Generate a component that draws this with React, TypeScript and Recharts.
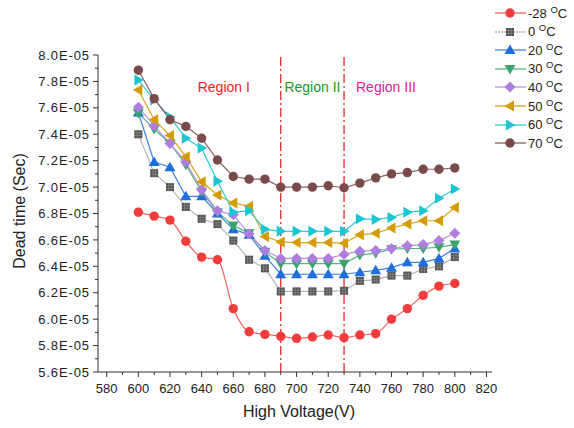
import React from 'react';
import { LineChart, Line, XAxis, YAxis, ReferenceLine, ReferenceDot } from 'recharts';

// dead time values are in units of 1E-05 s
const voltages = [600, 610, 620, 630, 640, 650, 660, 670, 680, 690, 700, 710, 720, 730, 740, 750, 760, 770, 780, 790, 800];
const tempM28 = [6.81, 6.78, 6.75, 6.59, 6.47, 6.45, 6.08, 5.905, 5.885, 5.87, 5.855, 5.865, 5.88, 5.86, 5.88, 5.89, 6.0, 6.08, 6.18, 6.25, 6.27];
const temp0 = [7.4, 7.105, 7.0, 6.85, 6.76, 6.72, 6.595, 6.45, 6.385, 6.21, 6.21, 6.21, 6.21, 6.215, 6.29, 6.3, 6.33, 6.33, 6.38, 6.4, 6.47];
const temp20 = [7.565, 7.19, 7.15, 6.93, 6.93, 6.8, 6.68, 6.64, 6.48, 6.34, 6.34, 6.34, 6.34, 6.34, 6.355, 6.37, 6.39, 6.43, 6.43, 6.46, 6.535];
const temp30 = [7.56, 7.44, 7.33, 7.17, 6.965, 6.81, 6.71, 6.65, 6.51, 6.42, 6.42, 6.42, 6.42, 6.42, 6.485, 6.5, 6.53, 6.535, 6.535, 6.545, 6.565];
const temp40 = [7.605, 7.465, 7.33, 7.19, 6.98, 6.82, 6.79, 6.645, 6.52, 6.46, 6.46, 6.46, 6.46, 6.49, 6.515, 6.52, 6.535, 6.555, 6.565, 6.595, 6.65];
const temp50 = [7.735, 7.51, 7.39, 7.23, 7.04, 6.94, 6.88, 6.855, 6.625, 6.585, 6.58, 6.58, 6.58, 6.575, 6.64, 6.65, 6.69, 6.72, 6.745, 6.745, 6.845];
const temp60 = [7.81, 7.66, 7.53, 7.37, 7.295, 7.045, 6.81, 6.82, 6.68, 6.665, 6.665, 6.665, 6.665, 6.665, 6.76, 6.755, 6.77, 6.81, 6.82, 6.915, 6.985];
const temp70 = [7.885, 7.67, 7.51, 7.46, 7.37, 7.205, 7.08, 7.06, 7.06, 7.0, 7.0, 7.0, 7.01, 6.995, 7.03, 7.07, 7.1, 7.11, 7.135, 7.135, 7.145];

const xTicks = [580, 590, 600, 610, 620, 630, 640, 650, 660, 670, 680, 690, 700, 710, 720, 730, 740, 750, 760, 770, 780, 790, 800, 810, 820];
const yTicks = [5.6, 5.7, 5.8, 5.9, 6.0, 6.1, 6.2, 6.3, 6.4, 6.5, 6.6, 6.7, 6.8, 6.9, 7.0, 7.1, 7.2, 7.3, 7.4, 7.5, 7.6, 7.7, 7.8, 7.9, 8.0];

const regionBounds = [690, 730];
const regions = [
  { text: 'Region I', x: 654, color: '#f21d1d' },
  { text: 'Region II', x: 710, color: '#1a9c1a' },
  { text: 'Region III', x: 756.5, color: '#e4189a' },
];

type Shape = 'circle' | 'square' | 'up' | 'down' | 'diamond' | 'left' | 'right';

const series: { key: string; temp: string; values: number[]; color: string; line: string; shape: Shape; curve: 'monotone' | 'linear' }[] = [
  { key: 'm28', temp: '-28', values: tempM28, color: '#f23c3c', line: '#f26464', shape: 'circle', curve: 'monotone' },
  { key: 't0', temp: '0', values: temp0, color: '#505050', line: '#b4b4b4', shape: 'square', curve: 'linear' },
  { key: 't20', temp: '20', values: temp20, color: '#1e6edc', line: '#3d82e2', shape: 'up', curve: 'linear' },
  { key: 't30', temp: '30', values: temp30, color: '#3aa46a', line: '#56b482', shape: 'down', curve: 'linear' },
  { key: 't40', temp: '40', values: temp40, color: '#b07ce0', line: '#bb90e4', shape: 'diamond', curve: 'linear' },
  { key: 't50', temp: '50', values: temp50, color: '#d49c02', line: '#d8a41c', shape: 'left', curve: 'linear' },
  { key: 't60', temp: '60', values: temp60, color: '#1ac6d2', line: '#30cad4', shape: 'right', curve: 'linear' },
  { key: 't70', temp: '70', values: temp70, color: '#7a4a4a', line: '#8a6060', shape: 'circle', curve: 'linear' },
];

const data = voltages.map((v, i) => {
  const row: Record<string, number> = { v };
  series.forEach((s) => (row[s.key] = s.values[i]));
  return row;
});

const FONT = '"Liberation Sans", Arial, sans-serif';
const TICK_SIZE = 5;
const TICK_MARGIN = 4;

function Marker({ shape, cx, cy, color }: { shape: Shape; cx: number; cy: number; color: string }) {
  if (cx == null || cy == null) return null;
  switch (shape) {
    case 'circle':
      return <circle cx={cx} cy={cy} r={4.7} fill={color} />;
    case 'square':
      return (
        <g>
          <rect x={cx - 4} y={cy - 4} width={8} height={8} fill={color} />
          <path
            d={`M${cx - 1.3},${cy - 4}V${cy + 4}M${cx + 1.3},${cy - 4}V${cy + 4}M${cx - 4},${cy - 1.3}H${cx + 4}M${cx - 4},${cy + 1.3}H${cx + 4}`}
            stroke="#8c8c8c"
            strokeWidth={0.7}
          />
        </g>
      );
    case 'up':
      return <polygon points={`${cx},${cy - 5.5} ${cx + 5.5},${cy + 4} ${cx - 5.5},${cy + 4}`} fill={color} />;
    case 'down':
      return <polygon points={`${cx},${cy + 5.5} ${cx + 5.5},${cy - 4} ${cx - 5.5},${cy - 4}`} fill={color} />;
    case 'left':
      return <polygon points={`${cx - 5.5},${cy} ${cx + 4},${cy - 5.5} ${cx + 4},${cy + 5.5}`} fill={color} />;
    case 'right':
      return <polygon points={`${cx + 5.5},${cy} ${cx - 4},${cy - 5.5} ${cx - 4},${cy + 5.5}`} fill={color} />;
    case 'diamond':
      return <polygon points={`${cx},${cy - 5.5} ${cx + 5.5},${cy} ${cx},${cy + 5.5} ${cx - 5.5},${cy}`} fill={color} />;
  }
  return null;
}

const YTick = (props: any) => {
  const { x, y, payload } = props;
  const v: number = payload.value;
  const major = Math.round(v * 10) % 2 === 0;
  const ax = x + TICK_SIZE + TICK_MARGIN;
  return (
    <g>
      <line x1={ax - (major ? 5 : 3)} x2={ax} y1={y} y2={y} stroke="#333" />
      {major && (
        <text x={x + 1} y={y} dy={4.6} textAnchor="end" fontSize={13} letterSpacing={0.9} fill="#222">
          {`${v.toFixed(1)}E-05`}
        </text>
      )}
    </g>
  );
};

const XTick = (props: any) => {
  const { x, y, payload } = props;
  const v: number = payload.value;
  const major = v % 20 === 0;
  const ay = y - TICK_SIZE - TICK_MARGIN;
  return (
    <g>
      <line x1={x} x2={x} y1={ay} y2={ay + (major ? 5 : 3)} stroke="#333" />
      {major && (
        <text x={x} y={y} dy={12} textAnchor="middle" fontSize={13} fill="#222">
          {v}
        </text>
      )}
    </g>
  );
};

const legendTop = 13;
const legendStep = 18.6;

export default function App() {
  return (
    <div style={{ position: 'absolute', left: 0, top: 0, width: 574, height: 428, background: '#fff', fontFamily: FONT }}>
      <LineChart width={574} height={428} data={data} margin={{ top: 55, right: 82, bottom: 0, left: 0 }}>
        <XAxis
          dataKey="v"
          type="number"
          domain={[574.5, 823.5]}
          ticks={xTicks}
          interval={0}
          height={56}
          tickSize={TICK_SIZE}
          tickMargin={TICK_MARGIN}
          tickLine={false}
          tick={<XTick />}
          axisLine={{ stroke: '#333' }}
          allowDataOverflow
        />
        <YAxis
          type="number"
          domain={[5.6, 8.0]}
          ticks={yTicks}
          interval={0}
          width={98}
          tickSize={TICK_SIZE}
          tickMargin={TICK_MARGIN}
          tickLine={false}
          tick={<YTick />}
          axisLine={{ stroke: '#333' }}
          allowDataOverflow
        />
        {regionBounds.map((b) => (
          <ReferenceLine key={b} x={b} stroke="#e81414" strokeWidth={1.2} strokeDasharray="9 3 2 3" />
        ))}
        {regions.map((r) => (
          <ReferenceDot
            key={r.text}
            x={r.x}
            y={7.76}
            r={0}
            stroke="none"
            fill="none"
            label={{ value: r.text, position: 'center', fill: r.color, fontSize: 14 }}
          />
        ))}
        {series.map((s) => (
          <Line
            key={s.key}
            type={s.curve}
            dataKey={s.key}
            stroke={s.line}
            strokeWidth={1.2}
            isAnimationActive={false}
            activeDot={false}
            dot={(p: any) => <Marker key={`${s.key}-${p.index}`} shape={s.shape} cx={p.cx} cy={p.cy} color={s.color} />}
          />
        ))}
      </LineChart>

      <div
        style={{
          position: 'absolute',
          left: 20,
          top: 211,
          transform: 'translate(-50%, -50%) rotate(-90deg)',
          fontSize: 16,
          whiteSpace: 'nowrap',
          color: '#222',
        }}
      >
        Dead time (Sec)
      </div>
      <div
        style={{
          position: 'absolute',
          left: 299,
          top: 412,
          transform: 'translate(-50%, -50%)',
          fontSize: 16,
          whiteSpace: 'nowrap',
          color: '#222',
        }}
      >
        High Voltage(V)
      </div>

      {series.map((s, i) => {
        const cy = legendTop + i * legendStep;
        return (
          <div key={s.key} style={{ position: 'absolute', left: 494, top: cy - 9, height: 18, display: 'flex', alignItems: 'center' }}>
            <svg width={34} height={18} style={{ display: 'block' }}>
              <line x1={1} x2={32} y1={9} y2={9} stroke={s.line} strokeWidth={1.3} strokeDasharray={s.key === 't0' ? '2 1' : undefined} />
              <Marker shape={s.shape} cx={16} cy={9} color={s.color} />
            </svg>
            <span style={{ fontSize: 13, color: '#222', whiteSpace: 'nowrap' }}>
              {s.temp}{' '}
              <span style={{ fontSize: 9.5, position: 'relative', top: -5 }}>O</span>C
            </span>
          </div>
        );
      })}
    </div>
  );
}
